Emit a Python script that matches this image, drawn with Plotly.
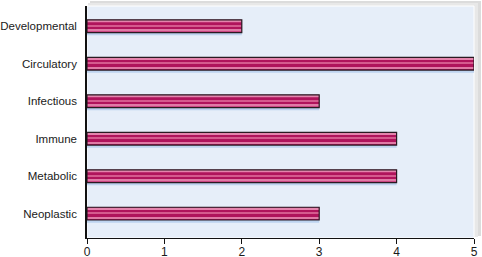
import plotly.graph_objects as go

categories = ["Developmental", "Circulatory", "Infectious", "Immune", "Metabolic", "Neoplastic"]
values = [2, 5, 3, 4, 4, 3]
x_ticks = [0, 1, 2, 3, 4, 5]

W, H = 482, 257
ML, MR, MT, MB = 87, 8, 6, 19
BW = 0.34

fig = go.Figure()
# light-blue drop shadow under each bar
fig.add_trace(go.Bar(x=values, y=categories, orientation="h", width=BW, offset=-BW / 2 + 0.07,
                     marker=dict(color="#bdd3ef", line=dict(width=0)), hoverinfo="skip"))
# main magenta bar
fig.add_trace(go.Bar(x=values, y=categories, orientation="h", width=BW, offset=-BW / 2,
                     marker=dict(color="#b0135c", line=dict(width=0)), hoverinfo="skip"))
# light stripes
for off, w, c in [(-0.15, 0.045, "#e484ad"), (-0.02, 0.03, "#d55a8e"), (0.1, 0.04, "#e07aa6")]:
    fig.add_trace(go.Bar(x=values, y=categories, orientation="h", width=w, offset=off,
                         marker=dict(color=c, line=dict(width=0)), hoverinfo="skip"))
# outline
fig.add_trace(go.Bar(x=values, y=categories, orientation="h", width=BW, offset=-BW / 2,
                     marker=dict(color="rgba(0,0,0,0)", line=dict(color="#2a1a22", width=1.2)),
                     hoverinfo="skip"))

pw = W - ML - MR
ph = H - MT - MB
def px(x):
    return (x - ML) / pw
def py(y):
    return 1 - (y - MT) / ph

fig.update_layout(
    width=W, height=H,
    margin=dict(l=ML, r=MR, t=MT, b=MB, pad=0),
    paper_bgcolor="white",
    plot_bgcolor="rgba(0,0,0,0)",
    barmode="overlay",
    showlegend=False,
    font=dict(family="Liberation Sans, Arial, sans-serif", size=12, color="#1a1a1a"),
    shapes=[
        dict(type="rect", xref="paper", yref="paper", layer="below",
             x0=px(90), x1=px(481), y0=py(236), y1=py(1),
             fillcolor="#dcdcdc", line=dict(width=0)),
        dict(type="rect", xref="paper", yref="paper", layer="below",
             x0=px(88), x1=px(478), y0=py(237), y1=py(3),
             fillcolor="#e8e8e8", line=dict(width=0)),
        dict(type="rect", xref="paper", yref="paper", layer="below",
             x0=0, x1=1, y0=0, y1=1,
             fillcolor="#e6eef9", line=dict(color="white", width=1)),
    ],
    xaxis=dict(range=[0, 5], tickvals=x_ticks, ticks="outside", ticklen=5, tickwidth=1,
               tickcolor="#111", showline=True, linecolor="#111", linewidth=1.2,
               tickfont=dict(color="#1a1a1a", size=12), ticklabelstandoff=-3,
               showgrid=False, zeroline=False, fixedrange=True, automargin=False),
    yaxis=dict(type="category", categoryarray=categories, range=[5.65, -0.54],
               showline=True, linecolor="#111", linewidth=1.5, ticks="", ticklabelstandoff=6,
               tickfont=dict(color="#1a1a1a", size=11.5),
               showgrid=False, zeroline=False, fixedrange=True, automargin=False),
)

fig.write_html("out.html", config={"displayModeBar": False})
